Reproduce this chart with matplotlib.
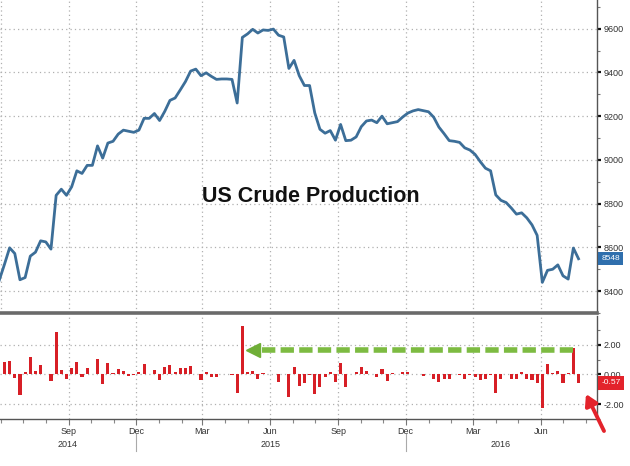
import matplotlib
matplotlib.use("Agg")
import matplotlib.pyplot as plt
import matplotlib.dates as mdates
import matplotlib.transforms as mtransforms
import numpy as np
import pandas as pd

# ---------------- data ----------------
week_start = "2014-05-30"
production = [
    8450, 8522, 8598, 8572, 8452, 8462, 8560, 8578, 8630, 8625,
    8592, 8838, 8866, 8838, 8877, 8950, 8938, 8975, 8975, 9064,
    9008, 9077, 9085, 9118, 9136, 9131, 9126, 9136, 9190, 9190,
    9212, 9180, 9222, 9272, 9283, 9320, 9358, 9406, 9415, 9385,
    9398, 9382, 9368, 9370, 9370, 9368, 9260, 9560, 9576, 9597,
    9580, 9594, 9592, 9598, 9570, 9562, 9418, 9455, 9385, 9340,
    9340, 9215, 9140, 9122, 9134, 9090, 9162, 9088, 9090, 9105,
    9152, 9178, 9182, 9170, 9200, 9165, 9170, 9175, 9196, 9214,
    9224, 9230, 9225, 9220, 9195, 9150, 9120, 9088, 9085, 9080,
    9055, 9045, 9025, 8992, 8962, 8950, 8840, 8815, 8805, 8780,
    8752, 8758, 8735, 8703, 8655, 8440, 8495, 8500, 8520, 8470,
    8455, 8597, 8548,
]
weekly_change_pct = [
    0.86, 0.92, -0.26, -1.38, 0.17, 1.2, 0.24, 0.65, 0.02, -0.43,
    2.82, 0.32, -0.32, 0.45, 0.86, -0.15, 0.43, 0.02, 1.03, -0.62,
    0.77, 0.1, 0.34, 0.2, -0.08, -0.03, 0.13, 0.67, 0.02, 0.32,
    -0.37, 0.5, 0.6, 0.13, 0.43, 0.43, 0.54, 0.02, -0.4, 0.17,
    -0.2, -0.17, 0.06, 0.02, -0.03, -1.23, 3.23, 0.15, 0.22, -0.28,
    0.1, 0.01, 0.06, -0.5, 0.01, -1.55, 0.47, -0.8, -0.58, -0.02,
    -1.35, -0.84, -0.2, 0.15, -0.54, 0.8, -0.86, 0.01, 0.15, 0.5,
    0.22, 0.01, -0.2, 0.37, -0.43, 0.1, 0.01, 0.18, 0.15, 0.05,
    0.03, -0.1, 0.01, -0.28, -0.54, -0.33, -0.33, 0.01, -0.02, -0.33,
    -0.05, -0.17, -0.35, -0.33, -0.05, -1.26, -0.28, 0.01, -0.33, -0.33,
    0.15, -0.28, -0.39, -0.6, -2.28, 0.7, 0.1, 0.26, -0.6, 0.1,
    1.78, -0.57,
]
top_ticks = [8400, 8600, 8800, 9000, 9200, 9400, 9600]
bottom_ticks = [-2, 0, 2]
bottom_tick_labels = ["-2.00", "0.00", "2.00"]
month_ticks = ["2014-09-01", "2014-12-01", "2015-03-01", "2015-06-01",
               "2015-09-01", "2015-12-01", "2016-03-01", "2016-06-01"]
month_labels = ["Sep", "Dec", "Mar", "Jun", "Sep", "Dec", "Mar", "Jun"]
year_labels = ["2014", "2015", "2016"]
year_label_dates = ["2014-08-31", "2015-06-01", "2016-04-08"]
year_separators = ["2014-12-01", "2015-12-01"]
title = "US Crude Production"
last_value_label = "8548"
last_change_label = "-0.57"

dates = pd.date_range(week_start, periods=len(production), freq="7D")
bar_dates = dates[1:]

# ---------------- figure ----------------
fig = plt.figure(figsize=(6.3, 4.66), dpi=100)
fig.patch.set_facecolor("white")
W, H = 630.0, 466.0
ax1 = fig.add_axes([0, 1 - 313 / H, 597 / W, 313 / H])
ax2 = fig.add_axes([0, 1 - 419 / H, 597 / W, 103 / H])

x0 = mdates.date2num(pd.Timestamp("2014-05-31"))
x1 = mdates.date2num(pd.Timestamp("2016-08-16"))

grid_kw = dict(color="#b0b0b0", lw=0.9, ls=(0, (1, 2.5)))
label_font = ["Liberation Sans Narrow", "Liberation Sans", "DejaVu Sans"]

# top panel
ax1.plot(dates, production, color="#3c6e98", lw=2.0, solid_joinstyle="round")
ax1.set_xlim(x0, x1)
ax1.set_ylim(8314, 9731)
ax1.yaxis.tick_right()
ax1.set_yticks(top_ticks)
ax1.set_yticklabels([str(t) for t in top_ticks], family=label_font,
                    fontsize=6.5, color="#333333")
ax1.set_yticks(np.arange(8300, 9701, 100), minor=True)
ax1.tick_params(axis="y", which="major", direction="out", length=3, width=1.6,
                color="#111111", pad=1.5)
ax1.tick_params(axis="y", which="minor", direction="out", length=2, width=0.8,
                color="#777777")
ax1.set_xticks([mdates.date2num(pd.Timestamp(d)) for d in ["2014-06-01"] + month_ticks])
ax1.tick_params(axis="x", which="both", length=0, labelbottom=False)
ax1.grid(True, which="major", **grid_kw)
for s in ["top", "left"]:
    ax1.spines[s].set_visible(False)
ax1.spines["bottom"].set_color("#6a6a6a")
ax1.spines["bottom"].set_linewidth(2.6)
ax1.spines["right"].set_color("#555555")
ax1.spines["right"].set_linewidth(1.0)

ax1.text(0.52, 0.371, title, transform=ax1.transAxes, ha="center", va="center",
         fontsize=15.5, fontweight="bold", family=["Liberation Sans", "DejaVu Sans"],
         color="#111111")

trans1 = mtransforms.blended_transform_factory(ax1.transAxes, ax1.transData)
ax1.text(1.007, production[-1], last_value_label, transform=trans1, ha="left",
         va="center", fontsize=6, color="white", family=label_font, zorder=5,
         bbox=dict(boxstyle="square,pad=0.35", fc="#2f6fad", ec="none"))

# bottom panel
ax2.bar(bar_dates, weekly_change_pct, width=4.2, color="#d71f26", zorder=3)
ax2.set_xlim(x0, x1)
ax2.set_ylim(-2.82, 3.93)
ax2.yaxis.tick_right()
ax2.set_yticks(bottom_ticks)
ax2.set_yticklabels(bottom_tick_labels, family=label_font, fontsize=6.5,
                    color="#333333")
ax2.set_yticks([-3, -1, 1, 3], minor=True)
ax2.tick_params(axis="y", which="major", direction="out", length=3, width=1.6,
                color="#111111", pad=1.5)
ax2.tick_params(axis="y", which="minor", direction="out", length=2, width=0.8,
                color="#777777")
ax2.set_xticks([mdates.date2num(pd.Timestamp(d)) for d in month_ticks])
ax2.set_xticklabels(month_labels, family=label_font, fontsize=6.5, color="#333333")
ax2.set_xticks(mdates.date2num(pd.date_range("2014-06-01", "2016-08-01", freq="MS")),
               minor=True)
ax2.tick_params(axis="x", which="major", direction="out", length=4, width=0.8,
                color="#777777", pad=2)
ax2.tick_params(axis="x", which="minor", direction="out", length=3, width=0.8,
                color="#888888")
ax2.grid(True, which="major", **grid_kw)
ax2.set_axisbelow(True)
for s in ["top", "left"]:
    ax2.spines[s].set_visible(False)
ax2.spines["bottom"].set_color("#555555")
ax2.spines["bottom"].set_linewidth(1.0)
ax2.spines["right"].set_color("#555555")
ax2.spines["right"].set_linewidth(1.0)

transx = mtransforms.blended_transform_factory(ax2.transData, ax2.transAxes)
for lab, d in zip(year_labels, year_label_dates):
    ax2.text(mdates.date2num(pd.Timestamp(d)), -0.245, lab, transform=transx,
             ha="center", va="center", fontsize=6.5, color="#333333",
             family=label_font)
for d in year_separators:
    xd = mdates.date2num(pd.Timestamp(d))
    ax2.plot([xd, xd], [-0.15, -0.31], transform=transx, color="#aaaaaa",
             lw=0.8, clip_on=False)

trans2 = mtransforms.blended_transform_factory(ax2.transAxes, ax2.transData)
ax2.text(1.007, weekly_change_pct[-1], last_change_label, transform=trans2,
         ha="left", va="center", fontsize=6, color="white", family=label_font,
         zorder=5, bbox=dict(boxstyle="square,pad=0.4", fc="#e3232b", ec="none"))

# green dashed arrow annotation
g_left = mdates.date2num(pd.Timestamp("2015-05-20"))
g_right = mdates.date2num(pd.Timestamp("2016-07-14"))
g_tip = mdates.date2num(pd.Timestamp("2015-05-09"))
ax2.plot([g_left, g_right], [1.65, 1.65], color="#7dbb42", lw=4.0,
         dashes=(2.4, 0.95), zorder=4)
ax2.plot([g_tip], [1.65], marker="<", ms=10, color="#6fae37", zorder=4)

# red arrow annotation
ax2.annotate("", xy=(586, H - 394), xytext=(604, H - 431),
             xycoords="figure pixels", textcoords="figure pixels",
             arrowprops=dict(arrowstyle="-|>,head_length=0.65,head_width=0.38",
                             color="#e3232b", lw=2.8, shrinkA=0, shrinkB=0),
             annotation_clip=False)

fig.savefig("out.png", dpi=100)
